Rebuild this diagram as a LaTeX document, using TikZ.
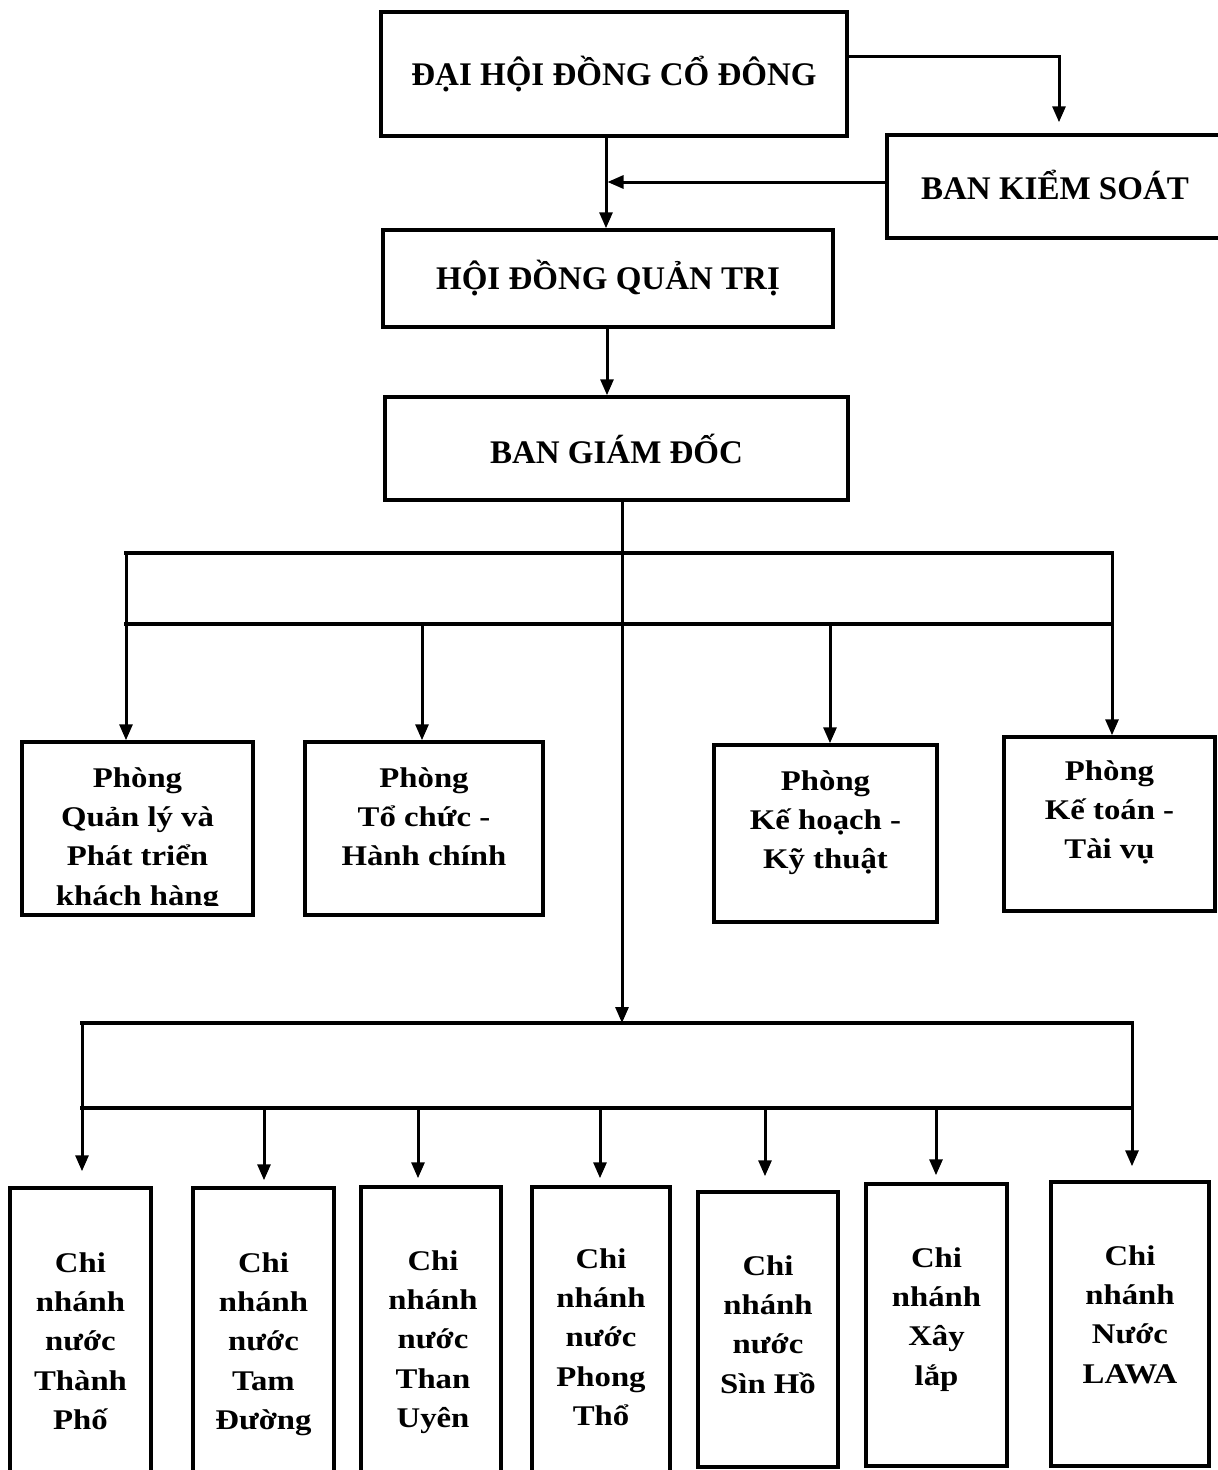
\documentclass[tikz,border=0pt]{standalone}
\usepackage{fontspec}
\setmainfont{Liberation Serif}
\newfontfamily\lowfont[FakeStretch=1.15]{Liberation Serif}
\usetikzlibrary{arrows.meta}
\begin{document}
\begin{tikzpicture}[x=1pt,y=-1pt,
  box/.style={draw, line width=3.5pt, inner sep=0pt},
  titletxt/.style={font=\fontsize{33}{40}\selectfont\bfseries},
  lowtxt/.style={font=\lowfont\bfseries\fontsize{28.5}{39.4}\selectfont, align=center, inner sep=0pt, anchor=base},
  conn/.style={line width=3pt},
  bus/.style={line width=4pt, line cap=rect},
  arr/.style={conn, -{Triangle[length=16pt,width=13pt]}},
]
\useasboundingbox (0,0) rectangle (1218,1470);
\clip (0,0) rectangle (1218,1470);

% top boxes
\node[box, titletxt, minimum width=466pt, minimum height=124pt] (dh) at (614,74) {ĐẠI HỘI ĐỒNG CỔ ĐÔNG};
\node[box, minimum width=338pt, minimum height=103pt] (bks) at (1056,186.5) {};
\node[titletxt, inner sep=0pt] (bkst) at (1055,185) {BAN KIỂM SOÁT};
\node[box, titletxt, minimum width=450pt, minimum height=97pt] (hq) at (608,278.5) {HỘI ĐỒNG QUẢN TRỊ};
\node[box, titletxt, minimum width=463pt, minimum height=103pt] (bg) at (616.5,448.5) {BAN GIÁM ĐỐC};

% departments
\node[box, minimum width=231pt, minimum height=173pt] (p1) at (137.5,828.5) {};
\node[box, minimum width=238pt, minimum height=173pt] (p2) at (424,828.5) {};
\node[box, minimum width=223pt, minimum height=177pt] (p3) at (825.5,833.5) {};
\node[box, minimum width=211pt, minimum height=174pt] (p4) at (1109.5,824) {};
\begin{scope}
\clip (22,742) rectangle (253,905);
\node[lowtxt] (p1t) at (137.5,905.2) {Phòng\\Quản lý và\\Phát triển\\khách hàng};
\end{scope}
\node[lowtxt] (p2t) at (424,865.8) {Phòng\\Tổ chức -\\Hành chính};
\node[lowtxt] (p3t) at (825.5,868.8) {Phòng\\Kế hoạch -\\Kỹ thuật};
\node[lowtxt] (p4t) at (1109.5,858.8) {Phòng\\Kế toán -\\Tài vụ};

% branches
\node[box, minimum width=141pt, minimum height=292pt] (c1) at (80.5,1334) {};
\node[box, minimum width=141pt, minimum height=292pt] (c2) at (263.5,1334) {};
\node[box, minimum width=140pt, minimum height=293pt] (c3) at (431,1333.5) {};
\node[box, minimum width=138pt, minimum height=293pt] (c4) at (601,1333.5) {};
\node[box, minimum width=140pt, minimum height=275pt] (c5) at (768,1329.5) {};
\node[box, minimum width=141pt, minimum height=282pt] (c6) at (936.5,1325) {};
\node[box, minimum width=158pt, minimum height=284pt] (c7) at (1130,1324) {};
\node[lowtxt] (c1t) at (80.5,1429.6) {Chi\\nhánh\\nước\\Thành\\Phố};
\node[lowtxt] (c2t) at (263.5,1429.6) {Chi\\nhánh\\nước\\Tam\\Đường};
\node[lowtxt] (c3t) at (433,1427.6) {Chi\\nhánh\\nước\\Than\\Uyên};
\node[lowtxt] (c4t) at (601,1425.6) {Chi\\nhánh\\nước\\Phong\\Thổ};
\node[lowtxt] (c5t) at (768,1393.2) {Chi\\nhánh\\nước\\Sìn Hồ};
\node[lowtxt] (c6t) at (936.5,1385.2) {Chi\\nhánh\\Xây\\lắp};
\node[lowtxt] (c7t) at (1130,1383.2) {Chi\\nhánh\\Nước\\LAWA};

% top connectors
\coordinate (k1) at (1059,56);
\draw[arr, shorten >=11pt] (dh.east |- k1) -- (k1) -- (k1 |- bks.north);
\coordinate (v1) at (606,0);
\draw[arr] (dh.south -| v1) -- (hq.north -| v1);
\coordinate (j1) at (606,182);
\draw[arr, shorten >=1.5pt] (bks.west |- j1) -- (j1);
\coordinate (v2) at (607,0);
\draw[arr] (hq.south -| v2) -- (bg.north -| v2);
\coordinate (m) at (622,0);
\coordinate (cb) at (622,1023);
\draw[arr] (bg.south -| m) -- (cb);

% department buses
\coordinate (pb1L) at (126,553);
\coordinate (pb1R) at (1112,553);
\coordinate (pb2L) at (126,624);
\coordinate (pb2R) at (1112,624);
\draw[bus] (pb1L) -- (pb1R);
\draw[bus] (pb2L) -- (pb2R);
\draw[arr] (pb1L) -- (pb1L |- p1.north);
\draw[arr] (pb1R) -- (pb1R |- p4.north);
\coordinate (pa2) at (422,624);
\coordinate (pa3) at (830,624);
\draw[arr] (pa2) -- (pa2 |- p2.north);
\draw[arr] (pa3) -- (pa3 |- p3.north);

% branch buses
\coordinate (cbL) at (82,1023);
\coordinate (cbR) at (1132,1023);
\coordinate (cb2L) at (82,1108);
\coordinate (cb2R) at (1132,1108);
\draw[bus] (cbL) -- (cbR);
\draw[bus] (cb2L) -- (cb2R);
\draw[arr, shorten >=15pt] (cbL) -- (cbL |- c1.north);
\draw[arr, shorten >=14pt] (cbR) -- (cbR |- c7.north);
\coordinate (ca2) at (264,1108);
\coordinate (ca3) at (418,1108);
\coordinate (ca4) at (600,1108);
\coordinate (ca5) at (765,1108);
\coordinate (ca6) at (936,1108);
\draw[arr, shorten >=6pt] (ca2) -- (ca2 |- c2.north);
\draw[arr, shorten >=7pt] (ca3) -- (ca3 |- c3.north);
\draw[arr, shorten >=7pt] (ca4) -- (ca4 |- c4.north);
\draw[arr, shorten >=14pt] (ca5) -- (ca5 |- c5.north);
\draw[arr, shorten >=7pt] (ca6) -- (ca6 |- c6.north);
\end{tikzpicture}
\end{document}
